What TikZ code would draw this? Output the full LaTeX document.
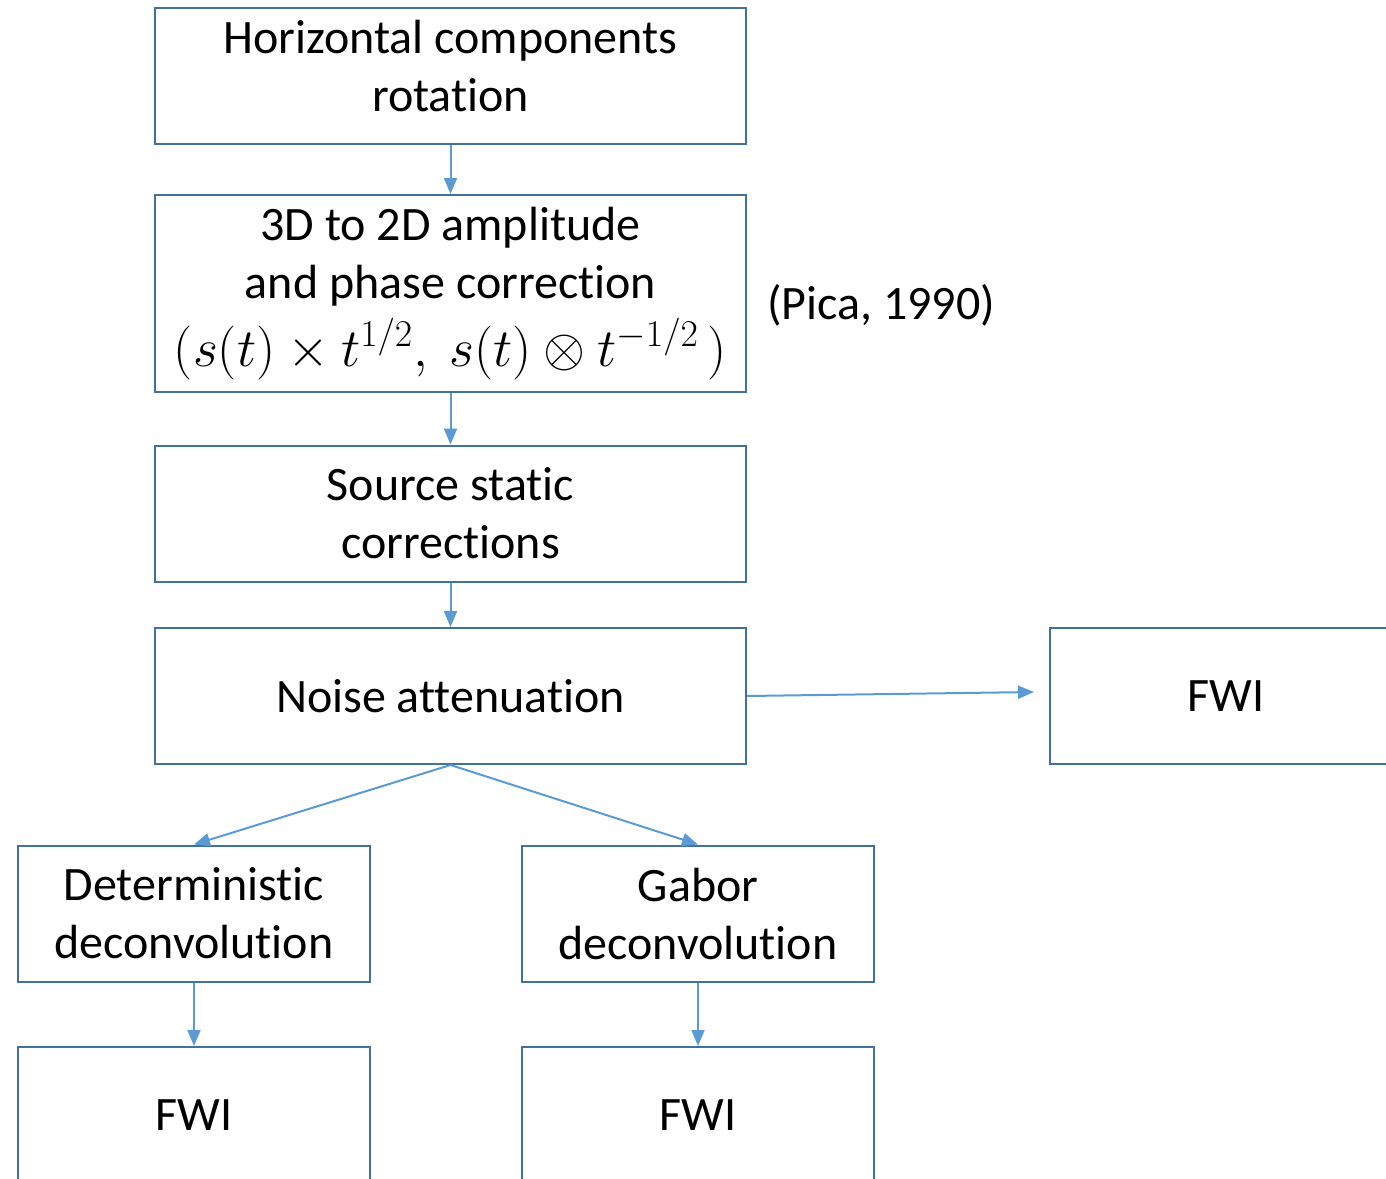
\RequirePackage{fix-cm}
\documentclass[tikz,border=0pt]{standalone}
\usepackage{amsmath}
\usepackage{fontspec}
\setmainfont{Carlito}[Ligatures=NoCommon]
\usepackage{tikz}
\usetikzlibrary{arrows.meta}
\definecolor{boxblue}{HTML}{41719C}
\definecolor{arrblue}{HTML}{5B9BD5}

\begin{document}
\begin{tikzpicture}[x=0.5pt, y=-0.5pt,
  stepbox/.style={draw=boxblue, line width=1pt, minimum width=295.5pt, minimum height=68pt,
    inner sep=0pt, align=center, font=\fontsize{24}{29}\selectfont},
  smallbox/.style={stepbox, minimum width=176pt},
  flow/.style={draw=arrblue, line width=1pt, -{Triangle[length=8pt,width=6.5pt]}},
]
% 1 unit = 1 px of the 1386 x 1178 frame, y downwards
\useasboundingbox (0,0) rectangle (1386,1178);

\node[stepbox, text depth=10pt] (rot) at (450.5,76) {Horizontal components\\rotation};
\node[stepbox, minimum height=98.5pt] (amp) at (450.5,293.5)
  {3D to 2D amplitude\\and phase correction\\[5pt]
   {\fontsize{27}{30}\selectfont$(s(t)\times t^{1/2},\ s(t)\otimes t^{-1/2}\,)$}};
\node[font=\fontsize{24}{29}\selectfont, anchor=west] (pica) at (760,305) {(Pica, 1990)};
\node[stepbox] (stat) at (450.5,513.5) {Source static\\corrections};
\node[stepbox] (noise) at (450.5,696) {Noise attenuation};
\node[smallbox] (fwiA) at (1226,696) {FWI};

\node[smallbox] (det) at (194,913.5) {Deterministic\\deconvolution};
\node[smallbox] (gab) at (698,913.5) {Gabor\\deconvolution};
\node[smallbox] (fwiB) at (194,1115) {FWI};
\node[smallbox] (fwiC) at (698,1115) {FWI};

\coordinate (fwiin) at (1034,692);

\draw[flow] (rot) -- (amp);
\draw[flow] (amp) -- (stat);
\draw[flow] (stat) -- (noise);
\draw[flow] (noise.east) -- (fwiin);
\draw[flow] (noise.south) -- (det.north);
\draw[flow] (noise.south) -- (gab.north);
\draw[flow] (det) -- (fwiB);
\draw[flow] (gab) -- (fwiC);
\end{tikzpicture}
\end{document}
